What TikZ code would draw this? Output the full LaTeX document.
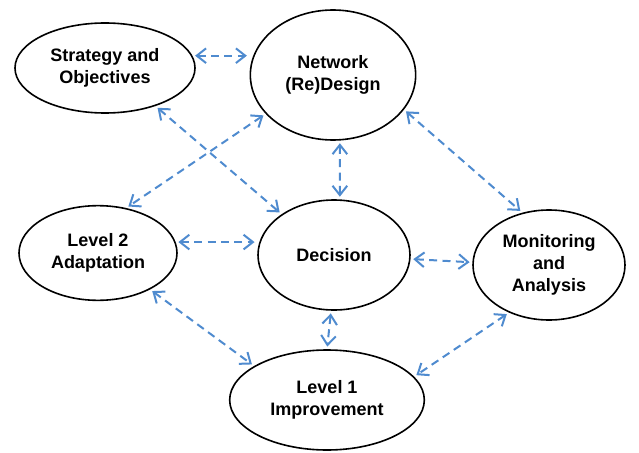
\documentclass[tikz,border=0pt]{standalone}
\usepackage{fontspec}
\setmainfont{Liberation Sans}
\usetikzlibrary{shapes.geometric,arrows.meta}
\definecolor{linkblue}{RGB}{79,139,207}
\tikzset{
    blob/.style={ellipse, draw=black, line width=1.2pt, inner sep=0pt, align=center,
        font=\fontsize{13.5}{16.5}\selectfont\bfseries},
    link/.style={draw=linkblue, line width=1.5pt, dash pattern=on 6pt off 4pt,
        {Straight Barb[length=7pt,width=11pt]}-{Straight Barb[length=7pt,width=11pt]},
        shorten <=2pt, shorten >=2pt},
}

\begin{document}
\begin{tikzpicture}[x=0.75pt,y=-0.75pt]
\useasboundingbox (0,0) rectangle (639,453);
\node[blob, minimum width=135pt, minimum height=67.5pt] (strategy) at (105,68) {Strategy and\\Objectives};
\node[blob, minimum width=124pt, minimum height=97.5pt] (network) at (333,75) {Network\\(Re)Design};
\node[blob, minimum width=118.5pt, minimum height=71pt] (level2) at (98,253) {Level 2\\Adaptation};
\node[blob, minimum width=114pt, minimum height=82.5pt] (decision) at (334,255) {Decision};
\node[blob, minimum width=114pt, minimum height=82.5pt] (monitor) at (549,265) {Monitoring\\and\\Analysis};
\node[blob, minimum width=146pt, minimum height=75pt] (level1) at (327,400) {Level 1\\Improvement};
\draw[link] (strategy.8) -- (network.west |- strategy.8);
\draw[link] (strategy.-37) -- (decision.142);
\draw[link] (network.-150) -- (level2.58);
\draw[link] (network.-84) -- (decision.84);
\draw[link] (network.-26) -- (monitor.117);
\draw[link] (level2.8) -- (decision.west |- level2.8);
\draw[link] (decision.-3) -- (monitor.178);
\draw[link] (level2.-35) -- (level1.155);
\draw[link] (decision.-93) -- (level1.90);
\draw[link] (monitor.-130) -- (level1.15);
\end{tikzpicture}
\end{document}
